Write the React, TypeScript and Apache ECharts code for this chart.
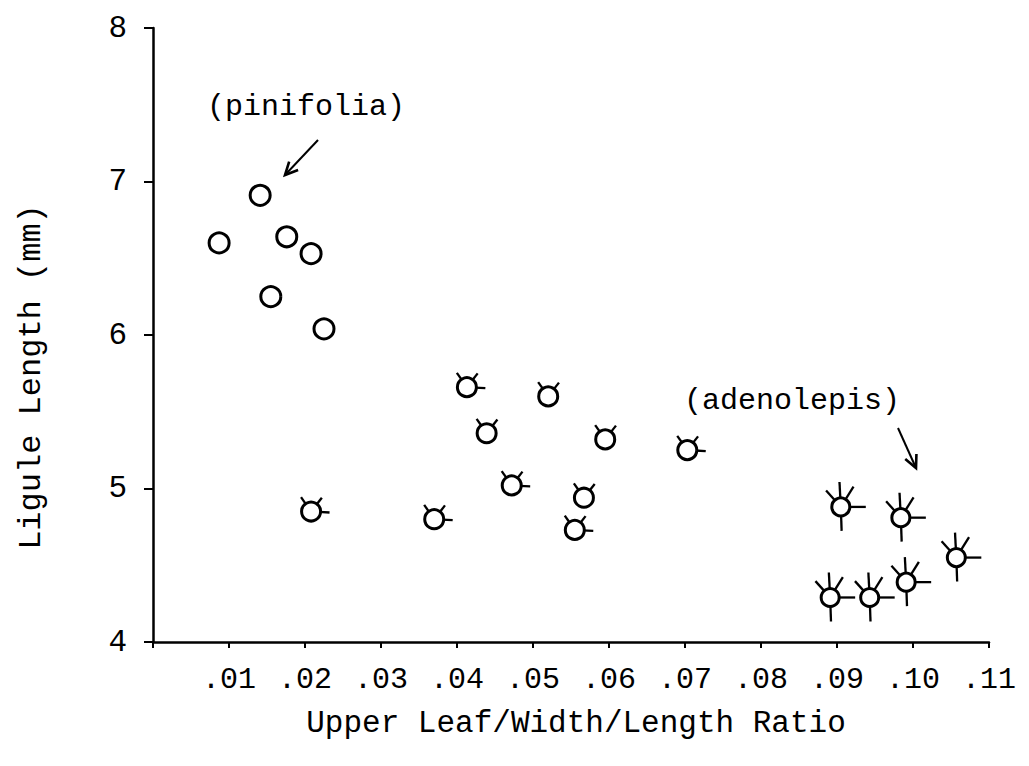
import React, { useEffect, useRef } from "react";
import * as echarts from "echarts";

// ---- data ----
const pinifoliaX = [0.0087, 0.0141, 0.0176, 0.0208, 0.0155, 0.0225];
const pinifoliaY = [6.6, 6.91, 6.64, 6.53, 6.25, 6.04];

const intermediateX = [0.0208, 0.037, 0.0413, 0.052, 0.0439, 0.0595, 0.0472, 0.0567, 0.0555, 0.0703];
const intermediateY = [4.85, 4.8, 5.66, 5.6, 5.36, 5.32, 5.02, 4.94, 4.73, 5.25];
const intermediateRightRay = [1, 1, 1, 0, 0, 0, 1, 0, 1, 1];

const adenolepisX = [0.0905, 0.0984, 0.1057, 0.0891, 0.0943, 0.0991];
const adenolepisY = [4.88, 4.81, 4.55, 4.29, 4.29, 4.39];

const xTicks = [".01", ".02", ".03", ".04", ".05", ".06", ".07", ".08", ".09", ".10", ".11"];
const yTicks = ["4", "5", "6", "7", "8"];

const FONT = "'Liberation Mono', 'DejaVu Sans Mono', monospace";

function glyph(rays: number[][], r: number) {
  return (params: any, api: any) => {
    const p = api.coord([api.value(0), api.value(1)]);
    const flag = api.value(2);
    const children: any[] = [];
    rays.forEach(([ang, len, optional]) => {
      if (optional && !flag) return;
      const a = (ang * Math.PI) / 180;
      children.push({
        type: "line",
        shape: {
          x1: p[0] + Math.cos(a) * r * 0.8,
          y1: p[1] - Math.sin(a) * r * 0.8,
          x2: p[0] + Math.cos(a) * (r + len),
          y2: p[1] - Math.sin(a) * (r + len),
        },
        style: { stroke: "#000", lineWidth: 2.3 },
      });
    });
    children.push({
      type: "circle",
      shape: { cx: p[0], cy: p[1], r },
      style: { fill: "#fff", stroke: "#000", lineWidth: 3 },
    });
    return { type: "group", children };
  };
}

function arrow(x1: number, y1: number, x2: number, y2: number) {
  const dx = x1 - x2;
  const dy = y1 - y2;
  const L = Math.hypot(dx, dy);
  const ux = dx / L;
  const uy = dy / L;
  const h = 14;
  const s = (26 * Math.PI) / 180;
  const rot = (a: number) => [
    x2 + h * (ux * Math.cos(a) - uy * Math.sin(a)),
    y2 + h * (ux * Math.sin(a) + uy * Math.cos(a)),
  ];
  return [
    { type: "line", shape: { x1, y1, x2, y2 }, style: { stroke: "#000", lineWidth: 2 } },
    {
      type: "polyline",
      shape: { points: [rot(s), [x2, y2], rot(-s)] },
      style: { stroke: "#000", lineWidth: 2.6, fill: "none" },
    },
  ];
}

export default function App() {
  const ref = useRef<HTMLDivElement>(null);
  useEffect(() => {
    if (!ref.current) return;
    const chart = echarts.init(ref.current, undefined, { renderer: "svg" });
    const zip = (xs: number[], ys: number[], f?: number[]) =>
      xs.map((x, i) => [x, ys[i], f ? f[i] : 0]);
    chart.setOption({
      animation: false,
      backgroundColor: "#fff",
      grid: { left: 153, right: 40, top: 28, bottom: 124 },
      xAxis: {
        type: "value",
        min: 0,
        max: 0.11,
        interval: 0.01,
        splitLine: { show: false },
        axisLine: { lineStyle: { color: "#000", width: 2.5 } },
        axisTick: { length: 6, lineStyle: { color: "#000", width: 2 } },
        axisLabel: {
          margin: 23,
          color: "#000",
          fontFamily: FONT,
          fontSize: 30,
          formatter: (v: number) => {
            const i = Math.round(v * 100);
            return i === 0 ? "" : xTicks[i - 1];
          },
        },
      },
      yAxis: {
        type: "value",
        min: 4,
        max: 8,
        interval: 1,
        splitLine: { show: false },
        axisLine: { show: true, lineStyle: { color: "#000", width: 2.5 } },
        axisTick: { show: true, length: 9, lineStyle: { color: "#000", width: 2 } },
        axisLabel: {
          margin: 26,
          color: "#000",
          fontFamily: FONT,
          fontSize: 31,
          formatter: (v: number) => yTicks[Math.round(v - 4)],
        },
      },
      series: [
        {
          type: "custom",
          name: "pinifolia",
          data: zip(pinifoliaX, pinifoliaY),
          renderItem: glyph([], 10),
        },
        {
          type: "custom",
          name: "intermediate",
          data: zip(intermediateX, intermediateY, intermediateRightRay),
          renderItem: glyph(
            [
              [125, 8, 0],
              [52, 8, 0],
              [-3, 9, 1],
            ],
            9.5
          ),
        },
        {
          type: "custom",
          name: "adenolepis",
          data: zip(adenolepisX, adenolepisY),
          renderItem: glyph(
            [
              [132, 13, 0],
              [93, 16, 0],
              [58, 15, 0],
              [0, 16, 0],
              [-88, 15, 0],
            ],
            9
          ),
        },
      ],
      graphic: [
        {
          type: "text",
          left: 207,
          top: 92,
          style: { text: "(pinifolia)", fontFamily: FONT, fontSize: 30, fill: "#000" },
        },
        {
          type: "text",
          left: 684,
          top: 386,
          style: { text: "(adenolepis)", fontFamily: FONT, fontSize: 30, fill: "#000" },
        },
        {
          type: "text",
          x: 576,
          y: 723,
          style: {
            text: "Upper Leaf/Width/Length Ratio",
            fontFamily: FONT,
            fontSize: 31,
            fill: "#000",
            align: "center",
            verticalAlign: "middle",
          },
        },
        {
          type: "text",
          x: 31,
          y: 377,
          rotation: Math.PI / 2,
          style: {
            text: "Ligule Length (mm)",
            fontFamily: FONT,
            fontSize: 32,
            fill: "#000",
            align: "center",
            verticalAlign: "middle",
          },
        },
        ...arrow(318, 140, 285, 175),
        ...arrow(898, 428, 916, 468),
      ],
    });
    return () => chart.dispose();
  }, []);
  return (
    <div
      ref={ref}
      style={{ position: "fixed", left: 0, top: 0, width: 1029, height: 766, background: "#fff" }}
    />
  );
}
